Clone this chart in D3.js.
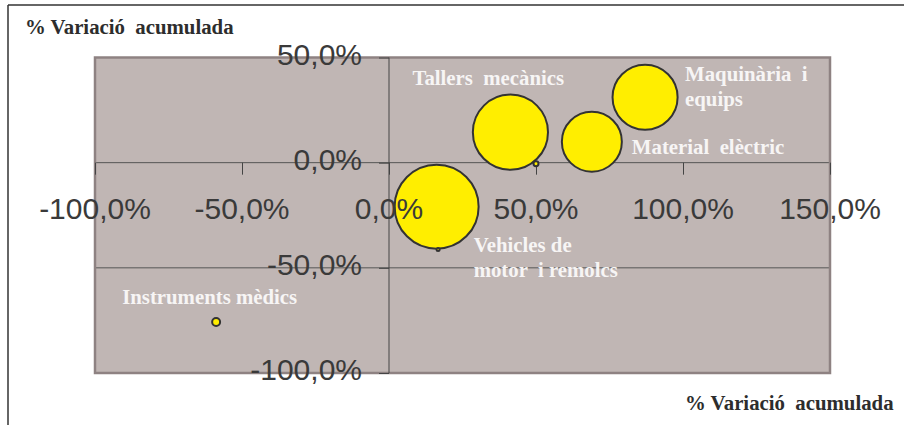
<!DOCTYPE html>
<html>
<head>
<meta charset="utf-8">
<script src="https://cdn.jsdelivr.net/npm/d3@7"></script>
<style>
  body { margin: 0; background: #fff; }
  svg { display: block; }
</style>
</head>
<body>
<svg id="chart" width="904" height="425"></svg>
<script>
// data (fractions, 1 = 100%)
const categories = ['Tallers  mecànics', 'Maquinària  i|equips', 'Material  elèctric',
  'Vehicles de|motor  i remolcs', 'Instruments mèdics', '', ''];
const xValues = [0.413, 0.871, 0.690, 0.162, -0.588, 0.500, 0.167];
const yValues = [0.145, 0.311, 0.100, -0.209, -0.758, -0.005, -0.413];
const sizes = [80, 60, 51, 100, 0.9, 0.35, 0.13];
const xTicks = [-1, -0.5, 0, 0.5, 1, 1.5];
const yTicks = [0.5, 0, -0.5, -1];
const axisTitle = '% Variació  acumulada';

// label placement (px from bubble centre)
const labelOffsets = [[-98, -47], [40, -16], [40, 12], [37, 45], [-94, -18], [0, 0], [0, 0]];

const svg = d3.select('#chart');
const fmt = d3.formatLocale({ decimal: ',', thousands: '.', grouping: [3], currency: ['', ''], minus: '-' }).format('.1%');

const x = d3.scaleLinear().domain([-1, 1.5]).range([95, 830]);
const y = d3.scaleLinear().domain([-1, 0.5]).range([373, 57.5]);
const r = d3.scaleSqrt().domain([0, d3.max(sizes)]).range([0, 42]);

// outer frame
svg.append('line').attr('x1', 8).attr('x2', 904).attr('y1', 5).attr('y2', 5)
  .attr('stroke', '#666').attr('stroke-width', 2);
svg.append('line').attr('x1', 8).attr('x2', 8).attr('y1', 5).attr('y2', 425)
  .attr('stroke', '#333').attr('stroke-width', 1.5);

// plot area
svg.append('rect')
  .attr('x', x(-1)).attr('y', y(0.5))
  .attr('width', x(1.5) - x(-1)).attr('height', y(-1) - y(0.5))
  .attr('fill', '#c0b6b4');

// gridlines
svg.append('g').selectAll('line').data(yTicks).enter().append('line')
  .attr('x1', x(-1)).attr('x2', x(1.5))
  .attr('y1', d => y(d)).attr('y2', d => y(d))
  .attr('stroke', '#555').attr('stroke-width', 1);

svg.append('rect')
  .attr('x', x(-1)).attr('y', y(0.5))
  .attr('width', x(1.5) - x(-1)).attr('height', y(-1) - y(0.5))
  .attr('fill', 'none').attr('stroke', '#8e8282').attr('stroke-width', 2.5);

// vertical axis line
svg.append('line').attr('x1', x(0)).attr('x2', x(0)).attr('y1', y(0.5)).attr('y2', y(-1))
  .attr('stroke', '#444').attr('stroke-width', 1);

// axes
const xAxis = svg.append('g')
  .attr('transform', `translate(0,${y(0)})`)
  .call(d3.axisBottom(x).tickValues(xTicks).tickFormat(fmt).tickSize(12).tickPadding(23));
const yAxis = svg.append('g')
  .attr('transform', `translate(${x(0)},0)`)
  .call(d3.axisLeft(y).tickValues(yTicks).tickFormat(fmt).tickSize(10).tickPadding(17));
[xAxis, yAxis].forEach(g => {
  g.select('.domain').remove();
  g.selectAll('.tick line').attr('stroke', '#444');
  g.selectAll('.tick text').remove();
});

// bubbles
const pts = categories.map((c, i) => ({ name: c, x: xValues[i], y: yValues[i], s: sizes[i], off: labelOffsets[i] }));
svg.append('g').selectAll('circle').data(pts).enter().append('circle')
  .attr('cx', d => x(d.x)).attr('cy', d => y(d.y)).attr('r', d => r(d.s))
  .attr('fill', '#ffee00').attr('stroke', '#333').attr('stroke-width', 2);

// bubble labels
const lab = svg.append('g').selectAll('text').data(pts.filter(d => d.name)).enter().append('text')
  .attr('x', d => x(d.x) + d.off[0]).attr('y', d => y(d.y) + d.off[1])
  .attr('fill', '#f7f5f5')
  .style('font-family', '"Liberation Serif", "Times New Roman", serif')
  .style('font-weight', 'bold').style('font-size', '20.8px')
  .style('white-space', 'pre');
lab.each(function (d) {
  const lines = d.name.split('|');
  d3.select(this).selectAll('tspan').data(lines).enter().append('tspan')
    .attr('x', x(d.x) + d.off[0]).attr('dy', (l, i) => i ? 25 : 0).text(l => l);
});

// tick labels (drawn on top)
const tickStyle = sel => sel.attr('fill', '#3a3a3a')
  .style('font-family', '"Liberation Sans", Arial, sans-serif').style('font-size', '30px');
svg.append('g').selectAll('text').data(xTicks).enter().append('text')
  .attr('x', d => x(d)).attr('y', y(0) + 56).attr('text-anchor', 'middle')
  .text(fmt).call(tickStyle);
svg.append('g').selectAll('text').data(yTicks).enter().append('text')
  .attr('x', x(0) - 27).attr('y', d => y(d) + 7).attr('text-anchor', 'end')
  .text(fmt).call(tickStyle);

// axis titles
const titleStyle = sel => sel.attr('fill', '#2d2d2d')
  .style('font-family', '"Liberation Serif", "Times New Roman", serif')
  .style('font-weight', 'bold').style('font-size', '20.8px').style('white-space', 'pre');
svg.append('text').attr('x', 25).attr('y', 34).text(axisTitle).call(titleStyle);
svg.append('text').attr('x', 685).attr('y', 410).text(axisTitle).call(titleStyle);
</script>
</body>
</html>
